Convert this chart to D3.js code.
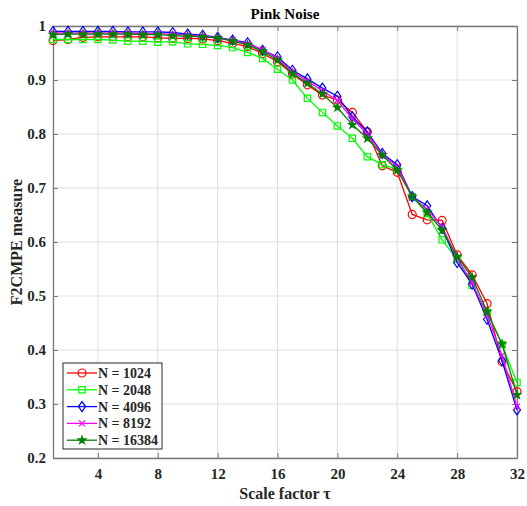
<!DOCTYPE html>
<html>
<head>
<meta charset="utf-8">
<script src="https://cdn.jsdelivr.net/npm/d3@7"></script>
<style>
  body { margin: 0; background: #fff; }
  text { font-family: "Liberation Serif", "Times New Roman", serif; font-weight: bold; }
</style>
</head>
<body>
<script>
// scale factors 1..32
var scales = d3.range(1, 33);

var n1024 = [0.973, 0.975, 0.979, 0.980, 0.980, 0.980, 0.980, 0.978, 0.977, 0.977, 0.976, 0.973, 0.968, 0.962, 0.949, 0.934,
             0.911, 0.891, 0.872, 0.863, 0.840, 0.804, 0.741, 0.729, 0.651, 0.641, 0.640, 0.576, 0.539, 0.486, 0.378, 0.323];
var n2048 = [0.975, 0.975, 0.975, 0.975, 0.974, 0.972, 0.972, 0.970, 0.971, 0.967, 0.966, 0.964, 0.960, 0.951, 0.940, 0.920,
             0.900, 0.866, 0.840, 0.815, 0.792, 0.758, 0.743, 0.735, 0.684, 0.653, 0.604, 0.568, 0.520, 0.470, 0.410, 0.340];
var n4096 = [0.990, 0.990, 0.990, 0.990, 0.990, 0.989, 0.989, 0.989, 0.988, 0.985, 0.983, 0.979, 0.974, 0.969, 0.955, 0.943,
             0.918, 0.902, 0.885, 0.870, 0.832, 0.804, 0.764, 0.743, 0.684, 0.667, 0.625, 0.562, 0.522, 0.457, 0.380, 0.289];
var n8192 = [0.987, 0.987, 0.987, 0.987, 0.987, 0.987, 0.986, 0.986, 0.985, 0.983, 0.981, 0.978, 0.973, 0.967, 0.956, 0.940,
             0.915, 0.898, 0.880, 0.862, 0.828, 0.800, 0.762, 0.740, 0.684, 0.660, 0.628, 0.570, 0.525, 0.465, 0.390, 0.295];
var n16384 = [0.984, 0.985, 0.985, 0.985, 0.985, 0.985, 0.984, 0.984, 0.982, 0.981, 0.980, 0.978, 0.972, 0.965, 0.953, 0.937,
              0.912, 0.894, 0.874, 0.849, 0.817, 0.792, 0.761, 0.733, 0.684, 0.655, 0.622, 0.573, 0.535, 0.471, 0.411, 0.317];

var labels = ["N = 1024", "N = 2048", "N = 4096", "N = 8192", "N = 16384"];
var colors = ["#ff0000", "#00ff00", "#0000ff", "#ff00ff", "#008000"];
var markers = ["circle", "square", "diamond", "cross", "star"];
var series = [n1024, n2048, n4096, n8192, n16384];

var xTicks = [4, 8, 12, 16, 20, 24, 28, 32];
var yTicks = [0.2, 0.3, 0.4, 0.5, 0.6, 0.7, 0.8, 0.9, 1];

var W = 527, H = 506;
var margin = {top: 26, right: 10, bottom: 48, left: 53};
var width = W - margin.left - margin.right,
    height = H - margin.top - margin.bottom;

var svg = d3.select("body").append("svg")
    .attr("width", W)
    .attr("height", H);

var g = svg.append("g")
    .attr("transform", "translate(" + margin.left + "," + margin.top + ")");

var x = d3.scaleLinear().domain([1, 32]).range([0, width]);
var y = d3.scaleLinear().domain([0.2, 1]).range([height, 0]);

// grid
g.selectAll(".gx").data(xTicks).enter().append("line")
    .attr("x1", function(d) { return x(d); })
    .attr("x2", function(d) { return x(d); })
    .attr("y1", 0).attr("y2", height)
    .attr("stroke", "#dfdfdf").attr("stroke-width", 1);
g.selectAll(".gy").data(yTicks).enter().append("line")
    .attr("y1", function(d) { return y(d); })
    .attr("y2", function(d) { return y(d); })
    .attr("x1", 0).attr("x2", width)
    .attr("stroke", "#dfdfdf").attr("stroke-width", 1);

// axes (ticks point inward, on all four sides)
var axisColor = "#777";
var fmt = function(d) { return d === 1 ? "1" : d3.format(".1f")(d); };

var xAxis = g.append("g")
    .attr("transform", "translate(0," + height + ")")
    .call(d3.axisBottom(x).tickValues(xTicks).tickSizeInner(-5).tickSizeOuter(0).tickPadding(10));
var yAxis = g.append("g")
    .call(d3.axisLeft(y).tickValues(yTicks).tickFormat(fmt).tickSizeInner(-5).tickSizeOuter(0).tickPadding(7));
var xTop = g.append("g")
    .call(d3.axisTop(x).tickValues(xTicks).tickSizeInner(-5).tickSizeOuter(0).tickFormat(""));
var yRight = g.append("g")
    .attr("transform", "translate(" + width + ",0)")
    .call(d3.axisRight(y).tickValues(yTicks).tickSizeInner(-5).tickSizeOuter(0).tickFormat(""));

[xAxis, yAxis, xTop, yRight].forEach(function(a) {
  a.selectAll("path").attr("stroke", axisColor).attr("stroke-width", 1.3);
  a.selectAll("line").attr("stroke", axisColor);
  a.selectAll("text")
    .attr("fill", "#262626")
    .style("font-size", "15px")
    .style("font-family", "Liberation Serif, serif")
    .style("font-weight", "bold");
});

// series lines + markers
var line = d3.line()
    .x(function(d, i) { return x(scales[i]); })
    .y(function(d) { return y(d); });

function symbolFor(m) {
  if (m === "circle") return d3.symbol().type(d3.symbolCircle).size(50)();
  if (m === "square") return d3.symbol().type(d3.symbolSquare).size(40)();
  if (m === "diamond") return "M0,-5L3.5,0L0,5L-3.5,0Z";
  if (m === "cross") return "M-3,-3L3,3M-3,3L3,-3";
  return d3.symbol().type(d3.symbolStar).size(18)();
}

series.forEach(function(s, k) {
  g.append("path")
    .datum(s)
    .attr("fill", "none")
    .attr("stroke", colors[k])
    .attr("stroke-width", 1.3)
    .attr("d", line);

  g.selectAll(".m" + k).data(s).enter().append("path")
    .attr("transform", function(d, i) { return "translate(" + x(scales[i]) + "," + y(d) + ")"; })
    .attr("d", symbolFor(markers[k]))
    .attr("fill", markers[k] === "star" ? colors[k] : "none")
    .attr("stroke", colors[k])
    .attr("stroke-width", 1.2);
});

// title and labels
svg.append("text")
    .attr("x", margin.left + width / 2)
    .attr("y", 19)
    .attr("text-anchor", "middle")
    .style("font-size", "15px")
    .text("Pink Noise");

svg.append("text")
    .attr("x", margin.left + width / 2)
    .attr("y", 499)
    .attr("text-anchor", "middle")
    .attr("fill", "#262626")
    .style("font-size", "16px")
    .text("Scale factor \u03C4");

svg.append("text")
    .attr("transform", "translate(22," + (margin.top + height / 2) + ") rotate(-90)")
    .attr("text-anchor", "middle")
    .attr("fill", "#262626")
    .style("font-size", "16px")
    .text("F2CMPE measure");

// legend
var legend = svg.append("g").attr("transform", "translate(63,363)");
legend.append("rect")
    .attr("width", 99).attr("height", 86)
    .attr("fill", "#fff").attr("stroke", "#262626").attr("stroke-width", 1);

var items = legend.selectAll(".legend").data(labels).enter().append("g")
    .attr("transform", function(d, i) { return "translate(0," + (10 + i * 16.8) + ")"; });
items.append("line")
    .attr("x1", 4).attr("x2", 34)
    .attr("stroke", function(d, i) { return colors[i]; })
    .attr("stroke-width", 1.3);
items.append("path")
    .attr("transform", "translate(19,0)")
    .attr("d", function(d, i) { return symbolFor(markers[i]); })
    .attr("fill", function(d, i) { return markers[i] === "star" ? colors[i] : "none"; })
    .attr("stroke", function(d, i) { return colors[i]; })
    .attr("stroke-width", 1.2);
items.append("text")
    .attr("x", 35).attr("y", 5)
    .attr("fill", "#262626")
    .style("font-size", "14px")
    .text(function(d) { return d; });
</script>
</body>
</html>
